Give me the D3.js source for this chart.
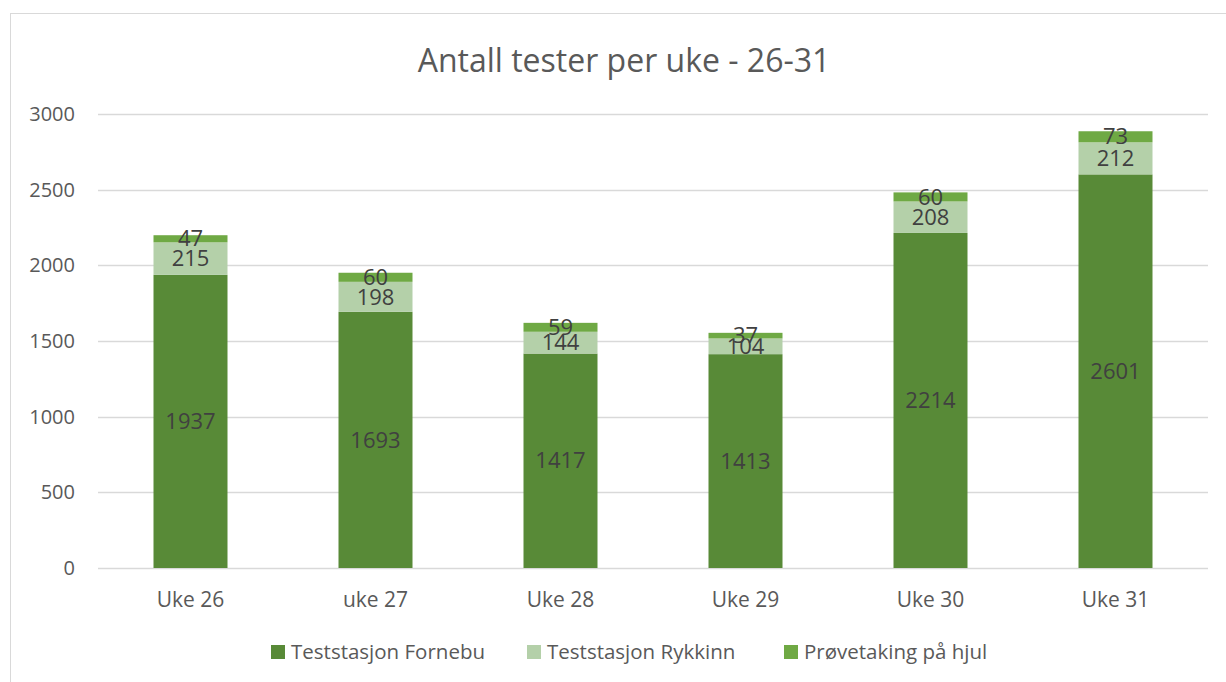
<!DOCTYPE html>
<html>
<head>
<meta charset="utf-8">
<style>
  body { margin: 0; background: #fff; }
  svg { font-family: "Open Sans", "Liberation Sans", sans-serif; }
</style>
</head>
<body>
<svg width="1226" height="682"></svg>
<script src="https://d3js.org/d3.v7.min.js"></script>
<script>
var weeks = ["Uke 26", "uke 27", "Uke 28", "Uke 29", "Uke 30", "Uke 31"];
var fornebu = [1937, 1693, 1417, 1413, 2214, 2601];
var rykkinn = [215, 198, 144, 104, 208, 212];
var hjul = [47, 60, 59, 37, 60, 73];
var seriesNames = ["Teststasjon Fornebu", "Teststasjon Rykkinn", "Prøvetaking på hjul"];
var colors = ["#588a37", "#b4d0a9", "#6fa944"];
var yTicks = [0, 500, 1000, 1500, 2000, 2500, 3000];

var svg = d3.select("svg");

// chart frame
svg.append("rect").attr("x", 10.5).attr("y", 13.5).attr("width", 1230).attr("height", 680)
  .attr("fill", "#fff").attr("stroke", "#d9d9d9");

var x = d3.scaleBand().domain(weeks).range([98, 1208]).paddingInner(0.6).paddingOuter(0.3);
var y = d3.scaleLinear().domain([0, 3000]).range([568, 114]);

svg.append("text").attr("x", 624).attr("y", 72).attr("text-anchor", "middle")
  .attr("font-size", 32).attr("fill", "#595959").text("Antall tester per uke - 26-31");

// gridlines
svg.append("g").selectAll("line").data(yTicks).enter().append("line")
  .attr("x1", 98).attr("x2", 1208)
  .attr("y1", function(d) { return Math.round(y(d)) + 0.5; })
  .attr("y2", function(d) { return Math.round(y(d)) + 0.5; })
  .attr("stroke", "#d9d9d9").attr("stroke-width", 1.5);

svg.append("g").selectAll("text").data(yTicks).enter().append("text")
  .attr("x", 75).attr("y", function(d) { return y(d); }).attr("dy", "0.35em")
  .attr("text-anchor", "end").attr("font-size", 20).attr("fill", "#595959")
  .text(function(d) { return d; });

var rows = weeks.map(function(w, i) {
  return { week: w, s0: fornebu[i], s1: rykkinn[i], s2: hjul[i] };
});
var stack = d3.stack().keys(["s0", "s1", "s2"])(rows);

var layers = svg.append("g").selectAll("g").data(stack).enter().append("g")
  .attr("fill", function(d, i) { return colors[i]; });

layers.selectAll("rect").data(function(d) { return d; }).enter().append("rect")
  .attr("x", function(d) { return x(d.data.week); })
  .attr("width", x.bandwidth())
  .attr("y", function(d) { return y(d[1]); })
  .attr("height", function(d) { return y(d[0]) - y(d[1]); });

layers.selectAll("text").data(function(d) { return d; }).enter().append("text")
  .attr("x", function(d) { return x(d.data.week) + x.bandwidth() / 2; })
  .attr("y", function(d) { return (y(d[0]) + y(d[1])) / 2; })
  .attr("dy", "0.35em").attr("text-anchor", "middle")
  .attr("font-size", 22).attr("fill", "#404040")
  .text(function(d) { return d[1] - d[0]; });

svg.append("g").selectAll("text").data(weeks).enter().append("text")
  .attr("x", function(d) { return x(d) + x.bandwidth() / 2; }).attr("y", 600)
  .attr("dy", "0.35em").attr("text-anchor", "middle")
  .attr("font-size", 21).attr("fill", "#595959").text(function(d) { return d; });

// legend
var legX = [271, 527, 784];
var leg = svg.append("g").selectAll("g").data(seriesNames).enter().append("g")
  .attr("transform", function(d, i) { return "translate(" + legX[i] + ",652)"; });
leg.append("rect").attr("x", 0).attr("y", -7).attr("width", 14).attr("height", 14)
  .attr("fill", function(d, i) { return colors[i]; });
leg.append("text").attr("x", 20).attr("dy", "0.35em").attr("font-size", 20.5)
  .attr("fill", "#595959").text(function(d) { return d; });
</script>
</body>
</html>
